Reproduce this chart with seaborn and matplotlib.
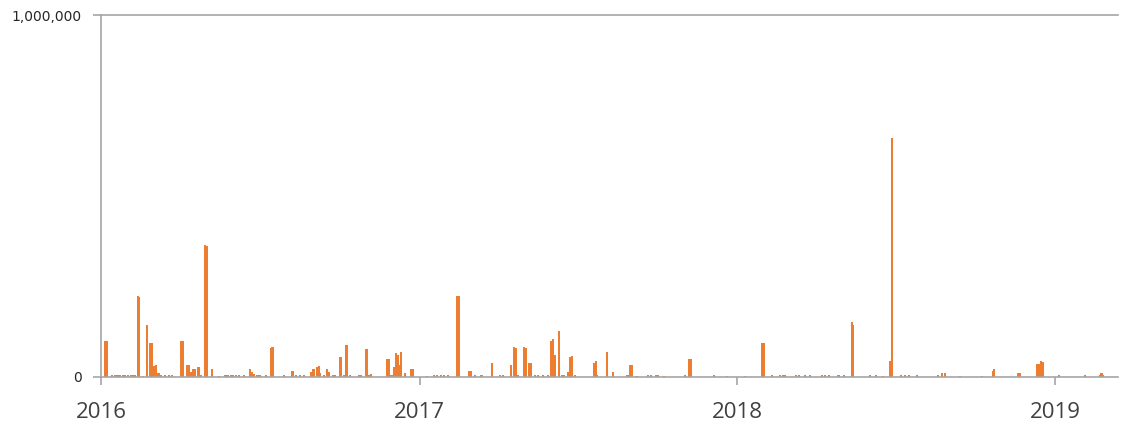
import pandas as pd
import seaborn as sns
import matplotlib.pyplot as plt
import matplotlib.dates as mdates
from matplotlib.ticker import FuncFormatter

# values in thousands
dates_2016 = ["2016-01-06", "2016-01-08",
              "2016-01-14", "2016-01-17", "2016-01-20", "2016-01-23", "2016-01-26",
              "2016-01-29", "2016-02-01", "2016-02-04", "2016-02-07", "2016-02-09",
              "2016-02-12", "2016-02-14", "2016-02-18", "2016-02-23",
              "2016-02-26", "2016-02-28", "2016-03-02", "2016-03-04", "2016-03-07",
              "2016-03-10", "2016-03-14", "2016-03-19", "2016-03-23",
              "2016-04-02", "2016-04-04", "2016-04-09", "2016-04-11", "2016-04-13",
              "2016-04-16", "2016-04-18", "2016-04-21", "2016-04-23", "2016-04-25",
              "2016-04-29", "2016-05-02", "2016-05-07", "2016-05-15",
              "2016-05-23", "2016-05-26", "2016-05-29", "2016-06-01", "2016-06-04", "2016-06-07",
              "2016-06-13", "2016-06-20", "2016-06-22", "2016-06-25", "2016-06-28", "2016-07-01",
              "2016-07-08", "2016-07-14", "2016-07-16", "2016-07-29",
              "2016-08-07", "2016-08-09", "2016-08-12", "2016-08-17", "2016-08-21",
              "2016-08-29", "2016-08-31", "2016-09-02", "2016-09-05", "2016-09-07", "2016-09-09",
              "2016-09-13", "2016-09-17", "2016-09-19", "2016-09-23", "2016-09-26",
              "2016-10-01", "2016-10-03", "2016-10-06", "2016-10-09", "2016-10-13",
              "2016-10-23", "2016-10-26", "2016-10-31", "2016-11-02", "2016-11-04", "2016-11-06",
              "2016-11-25", "2016-11-27", "2016-11-29", "2016-12-01",
              "2016-12-03", "2016-12-05", "2016-12-07", "2016-12-09", "2016-12-11",
              "2016-12-15", "2016-12-22", "2016-12-24"]
values_2016 = [100, 100,
               5, 5, 5, 5, 5,
               5, 5, 5, 5, 5,
               222, 220, 3, 143,
               94, 94, 30, 32, 10,
               6, 4, 4, 4,
               100, 100, 32, 32, 14,
               21, 21, 28, 28, 5,
               365, 360, 21, 3,
               4, 4, 4, 4, 4, 4,
               5, 21, 14, 8, 6, 4,
               5, 79, 83, 4,
               16, 16, 5, 5, 4,
               14, 21, 21, 28, 30, 10,
               4, 21, 14, 4, 4,
               55, 55, 5, 88, 5,
               5, 5, 77, 77, 6, 8,
               49, 49, 5, 5,
               28, 65, 60, 32, 67,
               10, 21, 21]

dates_2017 = ["2017-01-09", "2017-01-17", "2017-01-21", "2017-01-25", "2017-01-29", "2017-02-02",
              "2017-02-13", "2017-02-15", "2017-02-27", "2017-03-01",
              "2017-03-06", "2017-03-13", "2017-03-25", "2017-04-03", "2017-04-07",
              "2017-04-16", "2017-04-19", "2017-04-21", "2017-04-24",
              "2017-05-01", "2017-05-03", "2017-05-07", "2017-05-09",
              "2017-05-13", "2017-05-17", "2017-05-23", "2017-05-28",
              "2017-06-01", "2017-06-03", "2017-06-05", "2017-06-10",
              "2017-06-13", "2017-06-16", "2017-06-20", "2017-06-23", "2017-06-25", "2017-06-28",
              "2017-07-20", "2017-07-22", "2017-07-24", "2017-08-04", "2017-08-11",
              "2017-08-27", "2017-08-29", "2017-08-31", "2017-09-02", "2017-09-07",
              "2017-09-20", "2017-09-24", "2017-09-29", "2017-10-02", "2017-10-09",
              "2017-11-02", "2017-11-06", "2017-11-08", "2017-12-05", "2017-12-20"]
values_2017 = [3, 5, 5, 5, 5, 5,
               222, 222, 17, 17,
               4, 4, 39, 4, 4,
               32, 81, 79, 5,
               81, 79, 39, 39,
               5, 5, 4, 4,
               100, 104, 60, 127,
               5, 5, 14, 55, 57, 5,
               39, 43, 4, 67, 14,
               4, 5, 32, 32, 3,
               5, 5, 5, 5, 3,
               4, 50, 50, 4, 3]

dates_2018 = ["2018-01-10", "2018-01-29", "2018-01-31",
              "2018-02-10", "2018-02-19", "2018-02-22", "2018-02-25",
              "2018-03-09", "2018-03-13", "2018-03-20", "2018-03-25",
              "2018-04-08", "2018-04-12", "2018-04-16", "2018-04-27", "2018-05-03",
              "2018-05-12", "2018-05-14", "2018-06-02", "2018-06-09", "2018-06-17",
              "2018-06-25", "2018-06-27", "2018-07-08", "2018-07-12", "2018-07-17",
              "2018-07-26", "2018-08-19", "2018-08-24", "2018-08-27",
              "2018-09-14", "2018-10-09", "2018-10-21", "2018-10-23",
              "2018-11-19", "2018-11-21", "2018-12-11", "2018-12-13", "2018-12-16", "2018-12-18"]
values_2018 = [3, 93, 93,
               4, 4, 4, 4,
               4, 4, 4, 4,
               4, 4, 4, 4, 4,
               150, 143, 4, 4, 3,
               43, 660, 6, 6, 4,
               4, 5, 11, 11,
               3, 3, 17, 22,
               11, 11, 34, 34, 44, 41]

dates_2019 = ["2019-01-05", "2019-02-04", "2019-02-21", "2019-02-23", "2019-02-25"]
values_2019 = [6, 6, 5, 9, 5]

year_ticks = ["2016", "2017", "2018", "2019"]

df = pd.DataFrame({
    "date": pd.to_datetime(dates_2016 + dates_2017 + dates_2018 + dates_2019),
    "value": [v * 1000 for v in values_2016 + values_2017 + values_2018 + values_2019],
})
df["x"] = mdates.date2num(df["date"])

sns.set_style("white")
plt.rcParams["font.family"] = ["Open Sans", "DejaVu Sans"]

grey = "#a6a6a6"
orange = "#ed7d31"

fig = plt.figure(figsize=(11.21, 4.25), dpi=100)
ax = fig.add_axes([101 / 1121, 48.3 / 425, 1017 / 1121, 361.7 / 425])

# bars about 2.4 days wide, on a native date scale
min_gap = df["x"].sort_values().diff().min()
sns.barplot(data=df, x="x", y="value", native_scale=True, width=2.4 / min_gap,
            color=orange, saturation=1, linewidth=0, errorbar=None, ax=ax)

start = mdates.date2num(pd.Timestamp("2016-01-01"))
ax.set_xlim(start, start + 1168)
ax.set_ylim(0, 1_000_000)

ax.set_xticks(mdates.date2num(pd.to_datetime(year_ticks)))
ax.set_xticklabels(year_ticks)
ax.set_yticks([0, 1_000_000])
ax.yaxis.set_major_formatter(FuncFormatter(lambda v, p: f"{v:,.0f}"))

for side in ["left", "bottom", "top"]:
    ax.spines[side].set_color(grey)
    ax.spines[side].set_linewidth(1.2)
ax.spines["right"].set_visible(False)

ax.tick_params(axis="x", bottom=True, length=6, width=1.2, color=grey, pad=12,
               labelsize=16, labelcolor="#404040")
ax.tick_params(axis="y", left=True, length=6, width=1.2, color=grey, pad=8,
               labelsize=10, labelcolor="#262626")
for lab in ax.get_yticklabels():
    lab.set_family("DejaVu Sans")

ax.set_xlabel("")
ax.set_ylabel("")

plt.savefig("out.png", dpi=100)
